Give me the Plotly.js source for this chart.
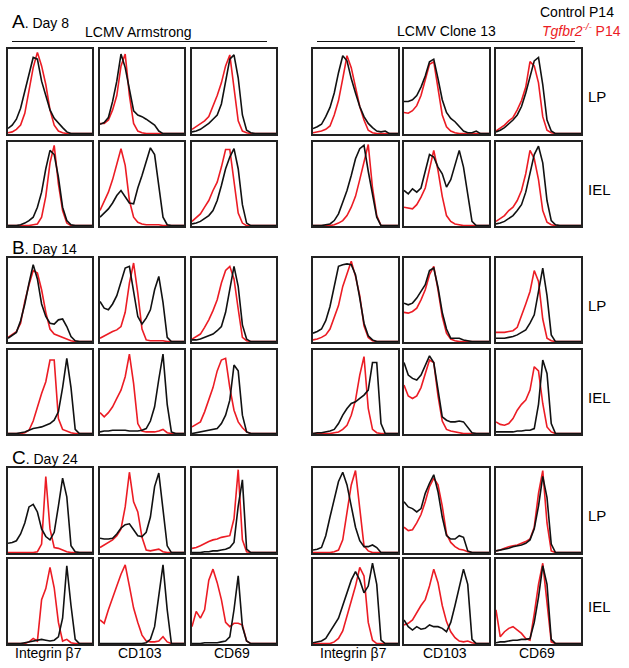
<!DOCTYPE html>
<html><head><meta charset="utf-8">
<script src="https://cdn.plot.ly/plotly-3.0.1.min.js"></script>
<style>html,body{margin:0;padding:0;background:#fff}#chart{width:629px;height:668px}</style>
</head><body><div id="chart"></div>
<script>
// shared fluorescence bins (relative scale 0-100)
const X = [0,5,10,15,20,25,30,35,40,45,50,55,60,65,70,75,80,85,90,95,100];

// ---- A. Day 8, LP ----
const d8_lp_arm_itgb7_ctrl = [6,10,17,30,50,72,90,88,62,45,28,18,12,7,2,0,0,0,0,0,0];
const d8_lp_arm_itgb7_ko   = [1,2,5,10,24,50,78,96,80,58,28,10,3,1,0,0,0,0,0,0,0];
const d8_lp_arm_cd103_ctrl = [11,13,19,38,62,94,78,50,27,22,20,17,14,10,3,0,0,0,0,0,0];
const d8_lp_arm_cd103_ko   = [12,12,16,28,45,80,94,45,12,3,1,0,0,0,0,0,0,0,0,0,0];
const d8_lp_arm_cd69_ctrl  = [2,3,5,8,12,17,22,35,60,88,93,66,22,4,1,0,0,0,0,0,0];
const d8_lp_arm_cd69_ko    = [5,8,11,15,20,32,45,60,80,93,55,15,3,1,0,0,0,0,0,0,0];
const d8_lp_cl13_itgb7_ctrl = [6,8,11,20,31,48,72,92,86,65,48,32,20,12,7,3,2,3,0,0,0];
const d8_lp_cl13_itgb7_ko   = [1,2,3,5,9,22,39,65,92,78,55,32,16,4,1,0,0,0,0,0,0];
const d8_lp_cl13_cd103_ctrl = [38,38,40,45,55,68,85,88,65,40,25,18,14,9,3,1,1,3,0,0,0];
const d8_lp_cl13_cd103_ko   = [25,24,27,33,45,62,82,85,52,22,8,3,1,0,0,0,0,0,0,0,0];
const d8_lp_cl13_cd69_ctrl  = [2,4,7,11,16,22,32,48,68,86,90,58,16,3,0,0,0,0,0,0,0];
const d8_lp_cl13_cd69_ko    = [3,6,10,15,19,28,39,55,85,80,60,20,4,1,0,0,0,0,0,0,0];
// ---- A. Day 8, IEL ----
const d8_iel_arm_itgb7_ctrl = [0,0,0,1,3,6,10,22,40,68,90,85,58,22,6,1,0,0,0,0,0];
const d8_iel_arm_itgb7_ko   = [0,0,0,0,0,0,1,2,10,35,75,96,50,18,3,0,0,0,0,0,0];
const d8_iel_arm_cd103_ctrl = [10,15,20,27,36,42,34,27,26,45,60,78,93,85,45,10,1,0,0,0,0];
const d8_iel_arm_cd103_ko   = [18,28,40,55,72,92,72,30,10,4,2,1,1,1,1,0,0,0,0,0,0];
const d8_iel_arm_cd69_ctrl  = [2,3,5,8,12,18,30,48,68,82,92,68,25,3,0,0,0,0,0,0,0];
const d8_iel_arm_cd69_ko    = [5,10,14,22,30,42,52,70,91,91,55,15,3,0,0,0,0,0,0,0,0];
const d8_iel_cl13_itgb7_ctrl = [0,0,0,1,2,6,14,28,42,60,80,92,96,65,35,10,0,0,0,0,0];
const d8_iel_cl13_itgb7_ko   = [0,0,0,0,0,1,3,6,12,22,35,55,78,97,45,12,0,0,0,0,0];
const d8_iel_cl13_cd103_ctrl = [42,38,44,40,45,65,85,82,70,62,46,55,72,90,70,40,5,0,0,0,0];
const d8_iel_cl13_cd103_ko   = [22,21,20,25,34,45,66,90,66,35,12,5,2,1,0,0,0,0,0,0,0];
const d8_iel_cl13_cd69_ctrl  = [2,3,5,8,12,18,25,40,62,85,95,75,30,6,1,0,0,0,0,0,0];
const d8_iel_cl13_cd69_ko    = [5,8,12,18,22,30,42,62,90,80,55,18,4,1,0,0,0,0,0,0,0];

// ---- B. Day 14, LP ----
const d14_lp_arm_itgb7_ctrl = [4,7,11,25,45,70,92,75,45,30,22,21,26,27,18,6,1,0,0,0,0];
const d14_lp_arm_itgb7_ko   = [5,8,12,22,48,68,85,82,62,35,15,9,7,5,3,1,0,0,0,0,0];
const d14_lp_arm_cd103_ctrl = [48,40,38,45,55,72,88,90,58,30,21,28,38,62,78,47,5,0,0,0,0];
const d14_lp_arm_cd103_ko   = [4,7,10,12,14,18,35,70,94,58,15,2,1,1,1,1,0,0,0,0,0];
const d14_lp_arm_cd69_ctrl  = [2,2,3,5,7,9,13,18,35,65,90,66,20,3,0,0,0,0,0,0,0];
const d14_lp_arm_cd69_ko    = [3,6,9,17,26,37,50,70,85,90,75,39,5,1,0,0,0,0,0,0,0];
const d14_lp_cl13_itgb7_ctrl = [10,12,15,25,42,65,90,92,93,92,80,52,22,7,2,0,0,0,0,0,0];
const d14_lp_cl13_itgb7_ko   = [2,3,5,8,15,28,43,66,82,96,78,55,19,5,1,0,0,0,0,0,0];
const d14_lp_cl13_cd103_ctrl = [46,44,46,52,60,68,85,88,65,35,15,4,4,4,2,1,0,0,0,0,0];
const d14_lp_cl13_cd103_ko   = [35,34,36,40,50,62,80,90,62,30,10,3,1,0,0,0,0,0,0,0,0];
const d14_lp_cl13_cd69_ctrl  = [4,4,4,5,6,8,11,14,22,32,60,88,55,8,0,0,0,0,0,0,0];
const d14_lp_cl13_cd69_ko    = [11,11,11,12,13,17,30,45,60,85,72,27,4,1,0,0,0,0,0,0,0];
// ---- B. Day 14, IEL ----
const d14_iel_arm_itgb7_ctrl = [0,0,0,1,2,4,6,7,8,10,12,16,26,55,90,55,5,0,0,0,0];
const d14_iel_arm_itgb7_ko   = [0,0,0,0,1,4,15,32,48,62,88,88,18,5,3,1,0,0,0,0,0];
const d14_iel_arm_cd103_ctrl = [2,3,3,4,4,4,4,3,3,3,4,6,15,32,65,95,35,2,0,0,0];
const d14_iel_arm_cd103_ko   = [25,20,25,32,42,52,68,95,60,12,3,2,2,2,3,5,1,0,0,0,0];
const d14_iel_arm_cd69_ctrl  = [0,1,2,3,4,5,6,12,22,40,82,75,22,2,0,0,0,0,0,0,0];
const d14_iel_arm_cd69_ko    = [8,11,14,26,40,55,75,88,90,55,28,14,7,2,0,0,0,0,0,0,0];
const d14_iel_cl13_itgb7_ctrl = [0,1,1,2,3,5,12,22,30,36,38,42,46,52,85,85,12,0,0,0,0];
const d14_iel_cl13_itgb7_ko   = [0,0,0,0,0,1,2,5,10,22,40,70,92,30,5,1,0,0,0,0,0];
const d14_iel_cl13_cd103_ctrl = [85,70,66,64,70,82,93,85,50,20,16,14,14,15,14,8,1,0,0,0,0];
const d14_iel_cl13_cd103_ko   = [58,45,42,45,55,72,88,85,45,15,5,3,2,1,0,0,0,0,0,0,0];
const d14_iel_cl13_cd69_ctrl  = [2,2,2,2,2,3,3,4,4,6,35,88,72,12,0,0,0,0,0,0,0];
const d14_iel_cl13_cd69_ko    = [14,11,10,12,18,28,35,40,52,80,75,36,8,2,0,0,0,0,0,0,0];

// ---- C. Day 24, LP ----
const d24_lp_arm_itgb7_ctrl = [11,12,14,22,35,54,57,48,28,19,15,24,55,88,66,8,1,0,0,0,0];
const d24_lp_arm_itgb7_ko   = [0,0,0,0,0,0,0,1,10,90,28,6,5,3,1,0,0,0,0,0,0];
const d24_lp_arm_cd103_ctrl = [17,16,16,17,22,29,33,34,27,20,19,24,42,78,94,54,8,0,0,0,0];
const d24_lp_arm_cd103_ko   = [6,9,12,15,20,28,54,95,60,48,18,3,2,3,4,1,0,0,0,0,0];
const d24_lp_arm_cd69_ctrl  = [0,0,0,1,1,2,2,3,4,6,12,55,86,4,0,0,0,0,0,0,0];
const d24_lp_arm_cd69_ko    = [5,6,8,11,13,15,16,18,19,20,40,98,15,1,0,0,0,0,0,0,0];
const d24_lp_cl13_itgb7_ctrl = [3,4,6,20,42,65,84,95,80,55,30,14,7,7,9,6,0,0,0,0,0];
const d24_lp_cl13_itgb7_ko   = [0,0,0,0,0,1,3,15,45,80,97,50,8,2,0,0,0,0,0,0,0];
const d24_lp_cl13_cd103_ctrl = [60,54,52,48,52,70,82,92,72,42,20,16,16,20,18,2,0,0,0,0,0];
const d24_lp_cl13_cd103_ko   = [30,26,27,35,45,60,78,88,80,55,22,12,7,4,3,1,0,0,0,0,0];
const d24_lp_cl13_cd69_ctrl  = [2,3,4,5,7,8,9,11,15,28,55,90,65,10,0,0,0,0,0,0,0];
const d24_lp_cl13_cd69_ko    = [2,3,5,7,8,9,11,13,16,30,70,97,35,2,0,0,0,0,0,0,0];
// ---- C. Day 24, IEL ----
const d24_iel_arm_itgb7_ctrl = [0,0,0,0,1,2,3,4,5,4,3,4,8,30,92,45,5,0,0,0,0];
const d24_iel_arm_itgb7_ko   = [0,0,0,0,0,2,6,3,52,65,90,66,25,3,5,1,0,0,0,0,0];
const d24_iel_arm_cd103_ctrl = [0,0,0,0,0,0,0,0,0,0,0,1,5,20,55,93,40,0,0,0,0];
const d24_iel_arm_cd103_ko   = [28,24,40,55,68,82,93,68,42,25,10,3,2,2,3,8,2,0,0,0,0];
const d24_iel_arm_cd69_ctrl  = [0,0,0,1,1,1,1,2,3,8,40,80,20,3,0,0,0,0,0,0,0];
const d24_iel_arm_cd69_ko    = [20,38,30,40,75,88,72,52,25,20,24,24,22,3,0,0,0,0,0,0,0];
const d24_iel_cl13_itgb7_ctrl = [1,2,3,6,14,22,30,45,60,75,85,75,60,68,95,70,4,0,0,0,0];
const d24_iel_cl13_itgb7_ko   = [0,0,0,0,0,2,6,15,32,50,68,90,80,25,4,0,0,0,0,0,0];
const d24_iel_cl13_cd103_ctrl = [28,20,16,20,17,18,22,20,20,18,14,25,45,68,88,70,5,0,0,0,0];
const d24_iel_cl13_cd103_ko   = [22,24,28,37,45,52,68,88,72,45,26,14,7,3,2,3,1,0,0,0,0];
const d24_iel_cl13_cd69_ctrl  = [1,2,2,3,4,4,5,5,6,25,55,92,70,5,0,0,0,0,0,0,0];
const d24_iel_cl13_cd69_ko    = [40,8,14,18,20,16,12,6,4,35,70,95,50,2,0,0,0,0,0,0,0];

const markerLabels = ['Integrin β7','CD103','CD69','Integrin β7','CD103','CD69'];
const tissueLabels = ['LP','IEL','LP','IEL','LP','IEL'];
const sectionLabels = [['A','Day 8'],['B','Day 14'],['C','Day 24']];
const infectionLabels = ['LCMV Armstrong','LCMV Clone 13'];
const seriesNames = ['Control P14','Tgfbr2-/- P14'];

// grid of [control, knockout] per row (tissue/day) and column (infection/marker)
const grid = [
  [[d8_lp_arm_itgb7_ctrl,d8_lp_arm_itgb7_ko],[d8_lp_arm_cd103_ctrl,d8_lp_arm_cd103_ko],[d8_lp_arm_cd69_ctrl,d8_lp_arm_cd69_ko],
   [d8_lp_cl13_itgb7_ctrl,d8_lp_cl13_itgb7_ko],[d8_lp_cl13_cd103_ctrl,d8_lp_cl13_cd103_ko],[d8_lp_cl13_cd69_ctrl,d8_lp_cl13_cd69_ko]],
  [[d8_iel_arm_itgb7_ctrl,d8_iel_arm_itgb7_ko],[d8_iel_arm_cd103_ctrl,d8_iel_arm_cd103_ko],[d8_iel_arm_cd69_ctrl,d8_iel_arm_cd69_ko],
   [d8_iel_cl13_itgb7_ctrl,d8_iel_cl13_itgb7_ko],[d8_iel_cl13_cd103_ctrl,d8_iel_cl13_cd103_ko],[d8_iel_cl13_cd69_ctrl,d8_iel_cl13_cd69_ko]],
  [[d14_lp_arm_itgb7_ctrl,d14_lp_arm_itgb7_ko],[d14_lp_arm_cd103_ctrl,d14_lp_arm_cd103_ko],[d14_lp_arm_cd69_ctrl,d14_lp_arm_cd69_ko],
   [d14_lp_cl13_itgb7_ctrl,d14_lp_cl13_itgb7_ko],[d14_lp_cl13_cd103_ctrl,d14_lp_cl13_cd103_ko],[d14_lp_cl13_cd69_ctrl,d14_lp_cl13_cd69_ko]],
  [[d14_iel_arm_itgb7_ctrl,d14_iel_arm_itgb7_ko],[d14_iel_arm_cd103_ctrl,d14_iel_arm_cd103_ko],[d14_iel_arm_cd69_ctrl,d14_iel_arm_cd69_ko],
   [d14_iel_cl13_itgb7_ctrl,d14_iel_cl13_itgb7_ko],[d14_iel_cl13_cd103_ctrl,d14_iel_cl13_cd103_ko],[d14_iel_cl13_cd69_ctrl,d14_iel_cl13_cd69_ko]],
  [[d24_lp_arm_itgb7_ctrl,d24_lp_arm_itgb7_ko],[d24_lp_arm_cd103_ctrl,d24_lp_arm_cd103_ko],[d24_lp_arm_cd69_ctrl,d24_lp_arm_cd69_ko],
   [d24_lp_cl13_itgb7_ctrl,d24_lp_cl13_itgb7_ko],[d24_lp_cl13_cd103_ctrl,d24_lp_cl13_cd103_ko],[d24_lp_cl13_cd69_ctrl,d24_lp_cl13_cd69_ko]],
  [[d24_iel_arm_itgb7_ctrl,d24_iel_arm_itgb7_ko],[d24_iel_arm_cd103_ctrl,d24_iel_arm_cd103_ko],[d24_iel_arm_cd69_ctrl,d24_iel_arm_cd69_ko],
   [d24_iel_cl13_itgb7_ctrl,d24_iel_cl13_itgb7_ko],[d24_iel_cl13_cd103_ctrl,d24_iel_cl13_cd103_ko],[d24_iel_cl13_cd69_ctrl,d24_iel_cl13_cd69_ko]]
];

// ---- layout geometry (pixels) ----
const W = 629, H = 668;
const colPx = [[8,92],[100,184],[192,276],[313,398],[404,489],[496,581]];
const rowPx = [[49,134],[142,226],[258,342],[350,434],[468,553],[559,644]];
const px = v => v / W;
const py = v => 1 - v / H;

const RED = 'rgb(236,28,36)';
const BLACK = '#111';
const FONT = 'Liberation Sans, Arial, sans-serif';

const traces = [];
const layout = {
  width: W, height: H,
  margin: {l:0, r:0, t:0, b:0},
  paper_bgcolor: '#fff', plot_bgcolor: '#fff',
  showlegend: false,
  font: {family: FONT, color: '#000', size: 14},
  annotations: [], shapes: []
};

for (let r = 0; r < 6; r++) {
  for (let c = 0; c < 6; c++) {
    const idx = r * 6 + c + 1;
    const xa = 'x' + (idx === 1 ? '' : idx);
    const ya = 'y' + (idx === 1 ? '' : idx);
    const [ctrl, ko] = grid[r][c];
    traces.push({x: X, y: ko, xaxis: xa, yaxis: ya, type: 'scatter', mode: 'lines',
      name: seriesNames[1], line: {color: RED, width: 1.6}, hoverinfo: 'skip'});
    traces.push({x: X, y: ctrl, xaxis: xa, yaxis: ya, type: 'scatter', mode: 'lines',
      name: seriesNames[0], line: {color: BLACK, width: 1.6}, hoverinfo: 'skip'});
    const axBase = {showline: true, mirror: true, linecolor: '#222', linewidth: 1.8,
      showgrid: false, zeroline: false, showticklabels: false, ticks: '', fixedrange: true};
    layout['xaxis' + (idx === 1 ? '' : idx)] = Object.assign({}, axBase,
      {domain: [px(colPx[c][0]), px(colPx[c][1])], range: [0, 100], anchor: ya});
    layout['yaxis' + (idx === 1 ? '' : idx)] = Object.assign({}, axBase,
      {domain: [py(rowPx[r][1]), py(rowPx[r][0])], range: [-0.5, 100], anchor: xa});
  }
}

const ann = (x, y, text, opts) => layout.annotations.push(Object.assign({
  xref: 'paper', yref: 'paper', x: px(x), y: py(y), text: text, showarrow: false,
  xanchor: 'left', yanchor: 'middle', font: {family: FONT, size: 14, color: '#000'}
}, opts || {}));

// section labels
const sectionY = [22, 247, 457];
sectionLabels.forEach((s, i) => {
  ann(10, sectionY[i], '<span style="font-size:19px">' + s[0] + '</span>. ' + s[1]);
});
// infection headers and underlines
ann(138, 32, infectionLabels[0], {xanchor: 'center'});
ann(447, 31, infectionLabels[1], {xanchor: 'center'});
layout.shapes.push({type: 'line', xref: 'paper', yref: 'paper', x0: px(12), x1: px(267), y0: py(41.5), y1: py(41.5), line: {color: '#111', width: 1.2}});
layout.shapes.push({type: 'line', xref: 'paper', yref: 'paper', x0: px(317), x1: px(575), y0: py(41.5), y1: py(41.5), line: {color: '#111', width: 1.2}});
// legend text
ann(616, 12, seriesNames[0], {xanchor: 'right'});
ann(623, 30, '<i>Tgfbr2</i><sup><i>-/-</i></sup> P14', {xanchor: 'right', font: {family: FONT, size: 14, color: RED}});
// tissue labels
rowPx.forEach((rp, i) => ann(586, (rp[0] + rp[1]) / 2 + 5, tissueLabels[i], {font: {family: FONT, size: 15, color: '#000'}}));
// marker labels
colPx.forEach((cp, i) => ann((cp[0] + cp[1]) / 2 - 2, 653, markerLabels[i], {xanchor: 'center'}));

Plotly.newPlot('chart', traces, layout, {staticPlot: true, displayModeBar: false});
</script>
</body></html>
